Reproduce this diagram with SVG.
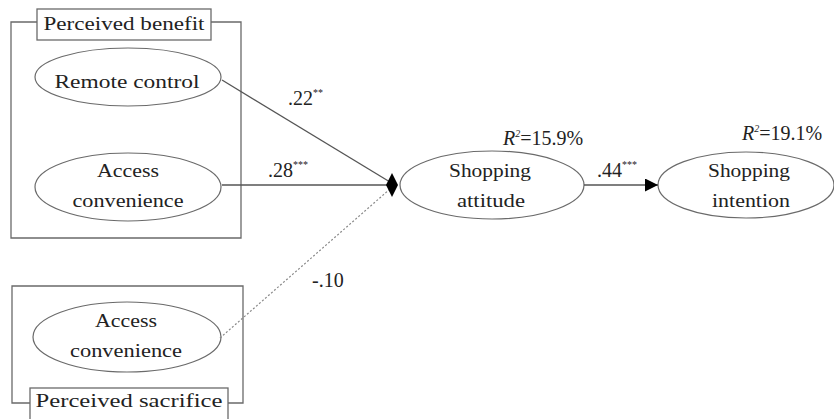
<svg xmlns="http://www.w3.org/2000/svg" width="834" height="419" viewBox="0 0 834 419">
<style>
.frame{fill:none;stroke:#6a6a6a;stroke-width:1.3}
.lbl{fill:#fff;stroke:#6a6a6a;stroke-width:1.3}
.ell{fill:#fff;stroke:#6a6a6a;stroke-width:1.2}
text{font-family:'Liberation Serif','Times New Roman','DejaVu Serif',serif}
.t{font-size:19px;fill:#222;text-anchor:middle}
.n{font-size:20px;fill:#222}
.sup{font-size:10px}
.line{stroke:#555;stroke-width:1.3;fill:none}
.dot{stroke:#888;stroke-width:1.2;stroke-dasharray:2 2;fill:none}
</style>
<defs>
<marker id="arr" viewBox="0 0 10 10" refX="10" refY="5" markerWidth="13" markerHeight="13" markerUnits="userSpaceOnUse" orient="auto"><path d="M0,0 L10,5 L0,10 z" fill="#000"/></marker>
</defs>
<g id="perceived-benefit">
<path class="frame" d="M37,22 H11 V238 H241 V22 H211"/>
<rect class="lbl" x="37" y="9" width="174" height="31"/>
<text class="t" font-family="Liberation Serif, serif" x="124" y="30" textLength="161" lengthAdjust="spacingAndGlyphs">Perceived benefit</text>
</g>
<g id="remote-control">
<ellipse class="ell" cx="128" cy="77" rx="93" ry="29"/>
<text class="t" font-family="Liberation Serif, serif" x="127" y="88" textLength="145" lengthAdjust="spacingAndGlyphs">Remote control</text>
</g>
<g id="access-convenience-benefit">
<ellipse class="ell" cx="128" cy="187" rx="93" ry="34"/>
<text class="t" font-family="Liberation Serif, serif" x="128" y="177" textLength="62" lengthAdjust="spacingAndGlyphs">Access</text>
<text class="t" font-family="Liberation Serif, serif" x="128" y="207" textLength="111" lengthAdjust="spacingAndGlyphs">convenience</text>
</g>
<g id="perceived-sacrifice">
<path class="frame" d="M30,403 H12 V286 H243 V403 H228"/>
<rect class="lbl" x="30" y="388" width="198" height="32"/>
<text class="t" font-family="Liberation Serif, serif" x="129" y="407" textLength="187" lengthAdjust="spacingAndGlyphs">Perceived sacrifice</text>
</g>
<g id="access-convenience-sacrifice">
<ellipse class="ell" cx="127" cy="337" rx="94" ry="35"/>
<text class="t" font-family="Liberation Serif, serif" x="126" y="327" textLength="62" lengthAdjust="spacingAndGlyphs">Access</text>
<text class="t" font-family="Liberation Serif, serif" x="126" y="357" textLength="112" lengthAdjust="spacingAndGlyphs">convenience</text>
</g>
<g id="shopping-attitude">
<ellipse class="ell" cx="492" cy="185" rx="92" ry="34"/>
<text class="t" font-family="Liberation Serif, serif" x="490" y="177" textLength="82" lengthAdjust="spacingAndGlyphs">Shopping</text>
<text class="t" font-family="Liberation Serif, serif" x="491" y="207" textLength="68" lengthAdjust="spacingAndGlyphs">attitude</text>
<text class="n" font-family="Liberation Serif, serif" x="503" y="145"><tspan font-style="italic">R</tspan><tspan class="sup" font-style="italic" dy="-8">2</tspan><tspan dy="8">=15.9%</tspan></text>
</g>
<g id="shopping-intention">
<ellipse class="ell" cx="746" cy="185" rx="88" ry="33"/>
<text class="t" font-family="Liberation Serif, serif" x="749" y="177" textLength="82" lengthAdjust="spacingAndGlyphs">Shopping</text>
<text class="t" font-family="Liberation Serif, serif" x="751" y="207" textLength="78" lengthAdjust="spacingAndGlyphs">intention</text>
<text class="n" font-family="Liberation Serif, serif" x="742" y="140"><tspan font-style="italic">R</tspan><tspan class="sup" font-style="italic" dy="-8">2</tspan><tspan dy="8">=19.1%</tspan></text>
</g>
<g id="connectors">
<line class="line" x1="222" y1="80" x2="390" y2="182"/>
<line class="line" x1="222" y1="185" x2="388" y2="185"/>
<line class="dot" x1="220" y1="338" x2="390" y2="189"/>
<polygon points="392,173 398,185 392,197 386,185" fill="#000"/>
<line class="line" x1="584" y1="185" x2="658" y2="185" marker-end="url(#arr)"/>
<text class="n" font-family="Liberation Serif, serif" x="288" y="105">.22<tspan class="sup" dy="-9">**</tspan></text>
<text class="n" font-family="Liberation Serif, serif" x="268" y="177">.28<tspan class="sup" dy="-9">***</tspan></text>
<text class="n" font-family="Liberation Serif, serif" x="312" y="287">-.10</text>
<text class="n" font-family="Liberation Serif, serif" x="597" y="177">.44<tspan class="sup" dy="-9">***</tspan></text>
</g>
</svg>
